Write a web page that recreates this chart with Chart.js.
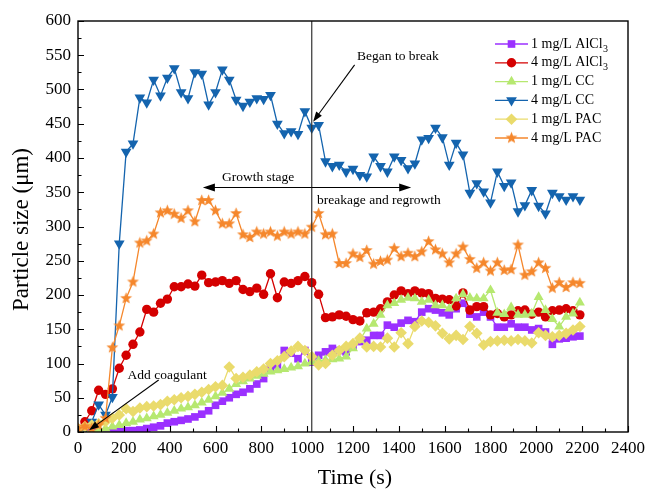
<!DOCTYPE html>
<html><head><meta charset="utf-8">
<script src="https://cdn.jsdelivr.net/npm/chart.js@4.4.1/dist/chart.umd.min.js"></script>
<style>html,body{margin:0;padding:0;background:#fff;}#wrap{width:646px;height:489px;}</style>
</head><body><div id="wrap"><canvas id="c" width="646" height="489"></canvas></div>
<script>
const times = [0,30,60,90,120,150,180,210,240,270,300,330,360,390,420,450,480,510,540,570,600,630,660,690,720,750,780,810,840,870,900,930,960,990,1020,1050,1080,1110,1140,1170,1200,1230,1260,1290,1320,1350,1380,1410,1440,1470,1500,1530,1560,1590,1620,1650,1680,1710,1740,1770,1800,1830,1860,1890,1920,1950,1980,2010,2040,2070,2100,2130,2160,2190];
const alcl1 = [0,0,0,0,0,0,1,2,2,3,5,7,9,13,15,17,19,22,26,31,39,45,50,55,58,63,70,78,93,98,119,115,107,119,102,112,117,122,119,117,125,132,134,141,141,156,153,159,163,161,175,180,178,174,171,180,188,172,168,175,168,153,153,158,153,153,149,151,146,128,136,137,139,140];
const alcl4 = [3,15,31,61,55,63,93,112,128,146,179,175,188,194,212,212,216,213,229,218,219,221,217,221,208,205,210,201,231,196,219,217,221,227,218,201,167,168,171,169,164,162,174,175,180,190,200,206,202,206,203,202,195,194,193,184,203,178,183,183,171,173,168,171,177,178,172,175,168,177,178,180,177,171];
const cc1 = [0,0,1,3,5,8,10,13,15,18,20,23,25,28,31,34,36,39,43,47,52,57,63,70,74,78,82,85,88,90,92,94,96,100,102,104,105,106,107,110,122,134,151,158,171,185,188,193,196,195,190,193,185,185,180,195,201,196,195,195,207,174,172,182,171,171,173,197,178,165,154,168,173,189];
const cc4 = [2,5,15,40,25,51,275,409,421,488,481,514,491,517,531,496,487,525,523,478,496,529,514,485,476,482,487,486,492,450,436,439,435,468,444,448,395,388,390,380,384,375,373,402,388,380,402,397,385,392,427,429,444,430,390,422,405,349,363,351,335,380,359,364,322,331,353,330,319,349,344,339,344,339];
const pac1 = [5,8,10,12,15,20,25,34,30,35,37,38,40,45,47,50,52,55,58,62,66,68,95,78,80,83,88,92,100,104,110,118,125,119,110,98,100,112,119,125,129,137,124,125,124,137,124,145,129,154,162,160,155,144,136,141,135,154,144,127,132,133,134,133,135,133,130,145,141,139,141,144,149,154];
const pac4 = [5,8,5,10,20,123,155,195,219,276,279,289,320,323,318,312,323,307,338,338,323,304,304,319,288,284,292,289,292,286,292,289,292,289,299,319,288,289,246,246,260,255,265,245,249,251,268,256,261,256,263,278,266,260,247,260,270,252,239,247,235,247,236,237,273,229,234,247,239,210,218,211,218,217];
const seriesNames = [["1 mg/L AlCl","3"],["4 mg/L AlCl","3"],["1 mg/L CC",""],["4 mg/L CC",""],["1 mg/L PAC",""],["4 mg/L PAC",""]];
const xTicks = {min:0, max:2400, step:200, minor:100};
const yTicks = {min:0, max:600, step:50, minor:25};
const breakTime = 1020;

const SERIF = '"Liberation Serif","Times New Roman",serif';
const colors = ['#9B30FF','#D40000','#B6E870','#1464AE','#EADB6C','#F5872C'];

function makeStar(color, R){
  const s = Math.ceil(R*2+2), c = document.createElement('canvas');
  c.width = s; c.height = s;
  const g = c.getContext('2d'); g.fillStyle = color;
  g.beginPath();
  for(let i=0;i<10;i++){
    const r = i%2===0 ? R : R*0.42;
    const a = -Math.PI/2 + i*Math.PI/5;
    const px = s/2 + r*Math.cos(a), py = s/2 + r*Math.sin(a);
    i===0 ? g.moveTo(px,py) : g.lineTo(px,py);
  }
  g.closePath(); g.fill();
  return c;
}
const starImg = makeStar(colors[5], 6.3);

function pts(v){ return times.map((t,i)=>({x:t,y:v[i]})); }
const styles = [
  {pointStyle:'rect', pointRadius:5.4, rotation:0},
  {pointStyle:'circle', pointRadius:4.7, rotation:0},
  {pointStyle:'triangle', pointRadius:5.8, rotation:0},
  {pointStyle:'triangle', pointRadius:6.2, rotation:180},
  {pointStyle:'rectRot', pointRadius:5.8, rotation:0},
  {pointStyle:starImg, pointRadius:6.3, rotation:0}
];
const allData = [alcl1, alcl4, cc1, cc4, pac1, pac4];
const datasets = allData.map((d,i)=>({
  label: seriesNames[i].join(''),
  data: pts(d),
  borderColor: colors[i], backgroundColor: colors[i],
  pointBackgroundColor: colors[i], pointBorderColor: colors[i],
  pointBorderWidth: 0,
  borderWidth: 1.3,
  pointStyle: styles[i].pointStyle,
  pointRadius: styles[i].pointRadius,
  pointRotation: styles[i].rotation,
  tension: 0,
  order: 5 - i
}));

function arrow(ctx, x1,y1,x2,y2, hl, hw){
  const a = Math.atan2(y2-y1, x2-x1);
  ctx.beginPath(); ctx.moveTo(x1,y1);
  ctx.lineTo(x2 - Math.cos(a)*hl*0.8, y2 - Math.sin(a)*hl*0.8); ctx.stroke();
  ctx.beginPath(); ctx.moveTo(x2,y2);
  ctx.lineTo(x2 - hl*Math.cos(a) + hw*Math.sin(a), y2 - hl*Math.sin(a) - hw*Math.cos(a));
  ctx.lineTo(x2 - hl*Math.cos(a) - hw*Math.sin(a), y2 - hl*Math.sin(a) + hw*Math.cos(a));
  ctx.closePath(); ctx.fill();
}

const annots = {
  breakText: {x:1396, y:548, text:'Began to break'},
  breakArrow: {x1:1207, y1:536, x2:1026, y2:453},
  growthText: {x:786, y:372, text:'Growth stage'},
  regrowText: {x:1313, y:338, text:'breakage and regrowth'},
  stageArrow: {x1:545, x2:1454, y:357},
  coagText: {x:389, y:83, text:'Add coagulant'},
  coagArrow: {x1:352, y1:76, x2:48, y2:2.5}
};

const deco = {
  id:'deco',
  afterDatasetsDraw(chart){
    const ctx = chart.ctx, xs = chart.scales.x, ys = chart.scales.y, ca = chart.chartArea;
    ctx.save();
    ctx.strokeStyle = '#333'; ctx.lineWidth = 1.2;
    const bx = xs.getPixelForValue(breakTime);
    ctx.beginPath(); ctx.moveTo(bx, ca.bottom); ctx.lineTo(bx, ca.top); ctx.stroke();
    ctx.strokeStyle = '#000'; ctx.fillStyle = '#000'; ctx.lineWidth = 1.1;
    const P = (x,y)=>[xs.getPixelForValue(x), ys.getPixelForValue(y)];
    let a = annots.breakArrow, p1 = P(a.x1,a.y1), p2 = P(a.x2,a.y2);
    arrow(ctx, p1[0],p1[1],p2[0],p2[1], 10, 3.5);
    a = annots.coagArrow; p1 = P(a.x1,a.y1); p2 = P(a.x2,a.y2);
    arrow(ctx, p1[0],p1[1],p2[0],p2[1], 10, 3.5);
    a = annots.stageArrow;
    const mid = P(breakTime, a.y), l = P(a.x1,a.y), r = P(a.x2,a.y);
    arrow(ctx, mid[0],mid[1], l[0],l[1], 12, 4);
    arrow(ctx, mid[0],mid[1], r[0],r[1], 12, 4);
    ctx.font = '13.5px ' + SERIF; ctx.textAlign = 'center'; ctx.textBaseline = 'middle';
    for (const k of ['breakText','growthText','regrowText','coagText']){
      const t = annots[k], p = P(t.x,t.y);
      ctx.fillText(t.text, p[0], p[1]);
    }
    ctx.restore();
  },
  afterDraw(chart){
    const ctx = chart.ctx, xs = chart.scales.x, ys = chart.scales.y, ca = chart.chartArea;
    ctx.save();
    ctx.strokeStyle = '#000'; ctx.lineWidth = 1.4;
    ctx.strokeRect(ca.left, ca.top, ca.right-ca.left, ca.bottom-ca.top);
    ctx.lineWidth = 1.1;
    ctx.beginPath();
    for (let v = xTicks.min; v <= xTicks.max; v += xTicks.minor){
      const px = Math.round(xs.getPixelForValue(v))+0.5;
      const len = (v % xTicks.step === 0) ? 6 : 3.5;
      ctx.moveTo(px, ca.bottom); ctx.lineTo(px, ca.bottom - len);
    }
    for (let v = yTicks.min; v <= yTicks.max; v += yTicks.minor){
      const py = Math.round(ys.getPixelForValue(v))+0.5;
      const len = (v % yTicks.step === 0) ? 6 : 3.5;
      ctx.moveTo(ca.left, py); ctx.lineTo(ca.left + len, py);
    }
    ctx.stroke();
    ctx.fillStyle = '#000';
    ctx.textAlign = 'center'; ctx.textBaseline = 'middle';
    ctx.font = '22px ' + SERIF;
    ctx.fillText('Time (s)', (ca.left+ca.right)/2 + 2, 478);
    ctx.save();
    ctx.font = '23px ' + SERIF;
    ctx.translate(22, (ca.top+ca.bottom)/2 + 3); ctx.rotate(-Math.PI/2);
    ctx.fillText('Particle size (\u03bcm)', 0, 0);
    ctx.restore();
    const lx0 = 495, lx1 = 528, ly0 = 44, dy = 18.8;
    chart.data.datasets.forEach((ds, i) => {
      const y = ly0 + i*dy;
      ctx.strokeStyle = ds.borderColor; ctx.lineWidth = 1.3;
      ctx.beginPath(); ctx.moveTo(lx0, y); ctx.lineTo(lx1, y); ctx.stroke();
      ctx.fillStyle = ds.backgroundColor; ctx.strokeStyle = ds.borderColor;
      Chart.helpers.drawPoint(ctx, {pointStyle: ds.pointStyle, radius: ds.pointRadius, rotation: ds.pointRotation, borderWidth: 0}, (lx0+lx1)/2, y);
      ctx.fillStyle = '#000'; ctx.textAlign = 'left'; ctx.textBaseline = 'middle';
      ctx.font = '14px ' + SERIF;
      const [main, sub] = seriesNames[i];
      ctx.fillText(main, lx1 + 3, y);
      if (sub){
        const w = ctx.measureText(main).width;
        ctx.font = '10px ' + SERIF;
        ctx.fillText(sub, lx1 + 3 + w + 0.5, y + 5);
      }
    });
    ctx.restore();
  }
};

new Chart(document.getElementById('c'), {
  type:'line',
  data:{datasets},
  options:{
    responsive:false, animation:false, devicePixelRatio:1,
    layout:{padding:{top:21, right:18, left:0, bottom:0}},
    plugins:{legend:{display:false}, tooltip:{enabled:false}},
    scales:{
      x:{type:'linear', min:xTicks.min, max:xTicks.max,
         ticks:{stepSize:xTicks.step, color:'#000', font:{family:SERIF, size:17}, padding:6, maxRotation:0, autoSkip:false, callback:v=>String(v)},
         grid:{display:false, drawTicks:false}, border:{display:false},
         afterFit(s){ s.height = 57; s.paddingLeft = 0; s.paddingRight = 0; }},
      y:{type:'linear', min:yTicks.min, max:yTicks.max,
         ticks:{stepSize:yTicks.step, color:'#000', font:{family:SERIF, size:17}, padding:7, autoSkip:false, callback:v=>String(v)},
         grid:{display:false, drawTicks:false}, border:{display:false},
         afterFit(s){ s.width = 78; s.paddingTop = 0; s.paddingBottom = 0; }}
    }
  },
  plugins:[deco]
});
</script></body></html>
